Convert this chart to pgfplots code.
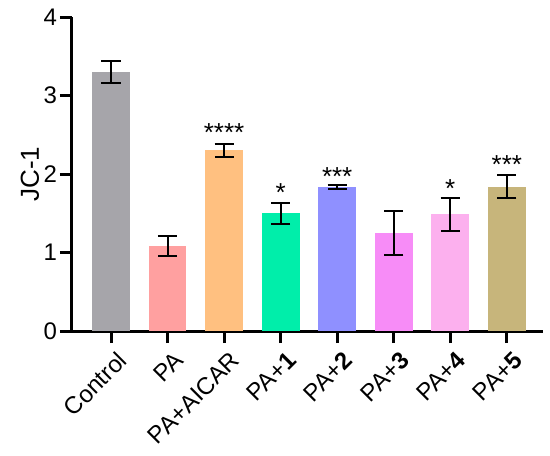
\documentclass[border=0pt]{standalone}
\usepackage{pgfplots}
\pgfplotsset{compat=1.18}
\usepackage{fontspec}
\setmainfont{Liberation Sans}
\definecolor{cA}{HTML}{A6A5AA}
\definecolor{cB}{HTML}{FFA0A0}
\definecolor{cC}{HTML}{FFC080}
\definecolor{cD}{HTML}{00EEAA}
\definecolor{cE}{HTML}{8F90FF}
\definecolor{cF}{HTML}{F78CF7}
\definecolor{cG}{HTML}{FCB0EE}
\definecolor{cH}{HTML}{C7B57B}
\newcommand{\tickf}{\fontsize{18}{21.6}\selectfont}
\newcommand{\labf}{\fontsize{19.5}{23.4}\selectfont}
\begin{document}
\begin{tikzpicture}[font=\tickf]
\path[use as bounding box] (-54pt,-93pt) rectangle (358.5pt,248.25pt);
\begin{axis}[
  scale only axis, width=353.25pt, height=235.5pt,
  xmin=-0.69, xmax=7.64, ymin=0, ymax=4,
  axis x line*=bottom, axis y line*=left,
  axis line style={line width=2.25pt, -},
  ytick={0,1,2,3,4},
  xtick={0,...,7},
  xticklabels={Control,PA,PA+AICAR,{PA+\textbf{1}},{PA+\textbf{2}},{PA+\textbf{3}},{PA+\textbf{4}},{PA+\textbf{5}}},
  tick align=outside, major tick length=9pt,
  tick style={line width=2.25pt, black},
  tick label style={font=\tickf},
  label style={font=\labf},
  xticklabel style={rotate=45, anchor=north east, inner sep=2pt, yshift=-4.5pt, xshift=1pt},
  yticklabel style={inner sep=2pt},
  /pgf/number format/assume math mode=true,
  ylabel={JC-1},
  ylabel style={at={(axis description cs:-0.0892,0.5)}, anchor=center},
  every axis plot/.append style={bar width=0.67, bar shift=0pt},
  error bars/y dir=both, error bars/y explicit,
  error bars/error bar style={line width=1.5pt, black},
  error bars/error mark options={rotate=90, mark size=7.2pt, line width=1.5pt, black},
]
\addplot[ybar, fill=cA, draw=none] coordinates {(0,3.30) +- (0,0.14)};
\addplot[ybar, fill=cB, draw=none] coordinates {(1,1.08) +- (0,0.13)};
\addplot[ybar, fill=cC, draw=none] coordinates {(2,2.30) +- (0,0.085)};
\addplot[ybar, fill=cD, draw=none] coordinates {(3,1.50) +- (0,0.135)};
\addplot[ybar, fill=cE, draw=none] coordinates {(4,1.835) +- (0,0.025)};
\addplot[ybar, fill=cF, draw=none] coordinates {(5,1.25) +- (0,0.28)};
\addplot[ybar, fill=cG, draw=none] coordinates {(6,1.49) +- (0,0.21)};
\addplot[ybar, fill=cH, draw=none] coordinates {(7,1.84) +- (0,0.15)};
\addplot[only marks, mark=none, error bars/y dir=none,
  nodes near coords, point meta=explicit symbolic,
  every node near coord/.style={anchor=center, inner sep=0pt, black, font=\labf}]
  coordinates {(2,2.53)[****] (3,1.76)[*] (4,1.97)[***] (6,1.82)[*] (7,2.12)[***]};
\end{axis}
\end{tikzpicture}
\end{document}
